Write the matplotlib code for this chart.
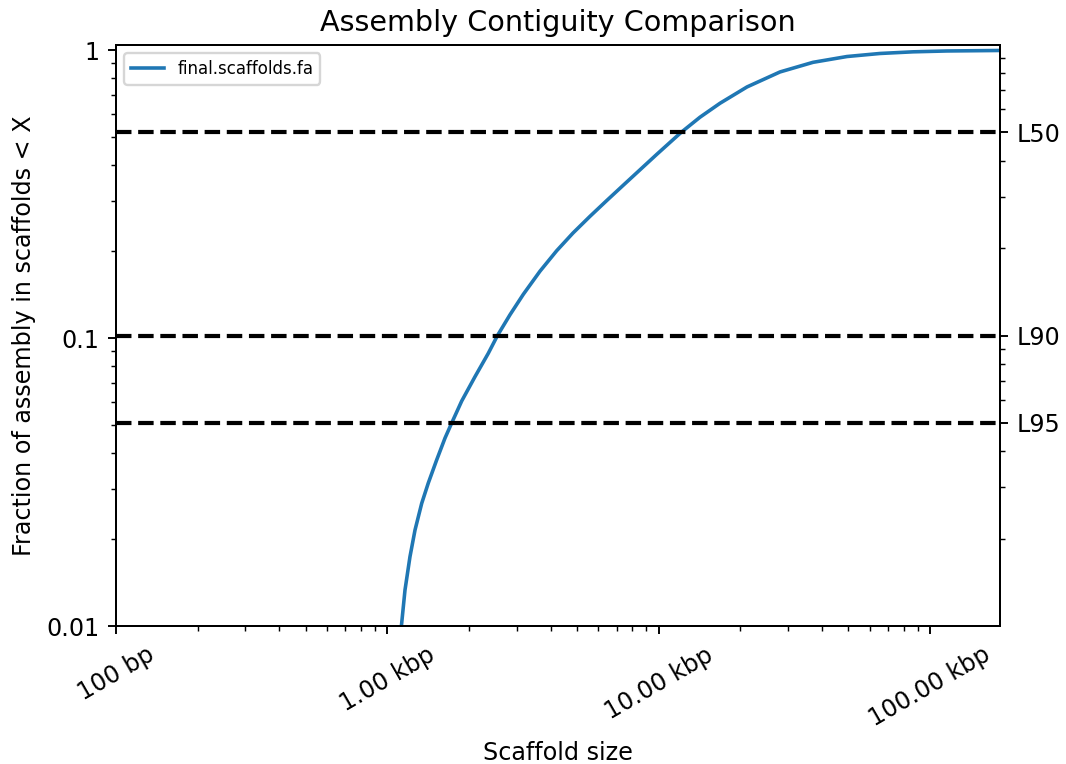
import matplotlib

matplotlib.use("Agg")
import matplotlib.pyplot as plt
from matplotlib.ticker import FixedLocator, FixedFormatter, NullFormatter

# ── Data
scaffold_size_bp = [
    1127, 1162, 1212, 1265, 1339, 1416, 1520, 1632, 1727, 1880, 2104,
    2356, 2547, 2832, 3171, 3653, 4210, 4834, 5585, 6452, 7408, 8535,
    9835, 12086, 14201, 16833, 21169, 28008, 37057, 49445, 65433,
    86580, 115540, 181170,
]
fraction_lt_x = [
    0.01000, 0.01334, 0.01740, 0.02154, 0.02667, 0.03137, 0.03771,
    0.04495, 0.05069, 0.06042, 0.07338, 0.08849, 0.10202, 0.12042,
    0.14180, 0.17060, 0.20097, 0.23150, 0.26459, 0.30076, 0.33931,
    0.38372, 0.43401, 0.51703, 0.58434, 0.65334, 0.74446, 0.83925,
    0.90630, 0.94938, 0.97280, 0.98571, 0.99243, 0.99640,
]
series_name = "final.scaffolds.fa"

x_ticks = [100, 1000, 10000, 100000]
x_tick_labels = ["100 bp", "1.00 kbp", "10.00 kbp", "100.00 kbp"]
y_ticks = [0.01, 0.1, 1]
y_tick_labels = ["0.01", "0.1", "1"]

l_levels = [0.5, 0.1, 0.05]
l_labels = ["L50", "L90", "L95"]

# ── Figure
DPI = 172
fig = plt.figure(figsize=(1066 / DPI, 764 / DPI), dpi=DPI)
ax = fig.add_axes([0.1088, 0.1806, 0.9381 - 0.1088, 0.9411 - 0.1806])

ax.plot(scaffold_size_bp, fraction_lt_x, color="#1f77b4", linewidth=1.5,
        label=series_name)
ax.set_xscale("log")
ax.set_yscale("log")
ax.set_xlim(100, 181200)
ax.set_ylim(0.01, 1.041)

ax.xaxis.set_major_locator(FixedLocator(x_ticks))
ax.xaxis.set_major_formatter(FixedFormatter(x_tick_labels))
ax.xaxis.set_minor_formatter(NullFormatter())
ax.yaxis.set_major_locator(FixedLocator(y_ticks))
ax.yaxis.set_major_formatter(FixedFormatter(y_tick_labels))
ax.yaxis.set_minor_formatter(NullFormatter())
for lbl in ax.get_xticklabels():
    lbl.set_rotation(30)
    lbl.set_ha("center")

ax.set_title("Assembly Contiguity Comparison")
ax.set_xlabel("Scaffold size")
ax.set_ylabel("Fraction of assembly in scaffolds < X")
ax.legend(loc="upper left", fontsize="x-small")

# Right axis with the L-levels
ax2 = ax.twinx()
ax2.set_yscale("log")
ax2.set_ylim(0.01, 1)
for lvl in l_levels:
    ax2.axhline(lvl, color="k", linestyle="--", linewidth=1.75)
ax2.yaxis.set_major_locator(FixedLocator(l_levels))
ax2.yaxis.set_major_formatter(FixedFormatter(l_labels))
ax2.yaxis.set_minor_formatter(NullFormatter())

fig.savefig("out.png", dpi=DPI)
